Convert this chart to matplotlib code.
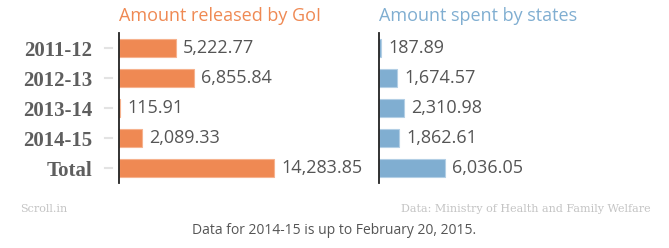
import matplotlib
matplotlib.use("Agg")
import matplotlib.pyplot as plt
import matplotlib.transforms as mtransforms

years = ["2011-12", "2012-13", "2013-14", "2014-15", "Total"]
released = [5222.77, 6855.84, 115.91, 2089.33, 14283.85]
spent = [187.89, 1674.57, 2310.98, 1862.61, 6036.05]
titles = ["Amount released by GoI", "Amount spent by states"]
colors = ["#ef8953", "#80aed1"]
edges = ["#f6b28e", "#b3cfe5"]

W, H = 669, 248
PX_PER_UNIT = 0.01088

fig = plt.figure(figsize=(W / 100, H / 100), dpi=100)


def add_panel(x0, width_px, values, title, color, edge, show_labels):
    ax = fig.add_axes([x0 / W, (H - 183) / H, width_px / W, 150 / H])
    ypos = list(range(len(values)))
    ax.barh(ypos, values, height=0.6, color=color, edgecolor=edge, linewidth=0.8)
    ax.set_xlim(0, width_px / PX_PER_UNIT)
    ax.set_ylim(len(values) - 0.5, -0.5)
    for s in ["top", "right", "bottom"]:
        ax.spines[s].set_visible(False)
    ax.spines["left"].set_color("#222222")
    ax.spines["left"].set_linewidth(1.3)
    ax.spines["left"].set_zorder(5)
    ax.set_xticks([])
    ax.set_yticks(ypos)
    ax.tick_params(axis="y", length=0, pad=19.5)
    if show_labels:
        ax.set_yticklabels(years, family="Liberation Serif", fontweight="bold",
                           fontsize=15, color="#5e5e5e")
        tr = mtransforms.blended_transform_factory(fig.transFigure, ax.transData)
        for y in ypos:
            ax.plot([105 / W, 112 / W], [y, y], transform=tr, color="#e3e3e3",
                    lw=1.5, clip_on=False)
    else:
        ax.set_yticklabels([])
    for y, v in zip(ypos, values):
        ax.annotate(f"{v:,.2f}", (v, y), xytext=(5, 0), textcoords="offset points",
                    va="center", ha="left", family="Open Sans", fontsize=13,
                    color="#555555")
    ax.text(0, 1.0 + 17 / 150, title, transform=ax.transAxes, ha="left",
            va="center", family="Open Sans", fontsize=13, color=color)
    ax.patch.set_visible(False)
    return ax


add_panel(119, 260, released, titles[0], colors[0], edges[0], True)
add_panel(379, 285, spent, titles[1], colors[1], edges[1], False)

fig.text(20 / W, 1 - 209 / H, "Scroll.in", family="DejaVu Serif", fontsize=8,
         color="#c4c4c4", va="center", ha="left")
fig.text(651 / W, 1 - 209 / H, "Data: Ministry of Health and Family Welfare",
         family="DejaVu Serif", fontsize=8, color="#c4c4c4", va="center", ha="right")
fig.text(334 / W, 1 - 231 / H, "Data for 2014-15 is up to February 20, 2015.",
         family="Open Sans", fontsize=10, color="#555555", va="center", ha="center")

fig.savefig("out.png", dpi=100)
